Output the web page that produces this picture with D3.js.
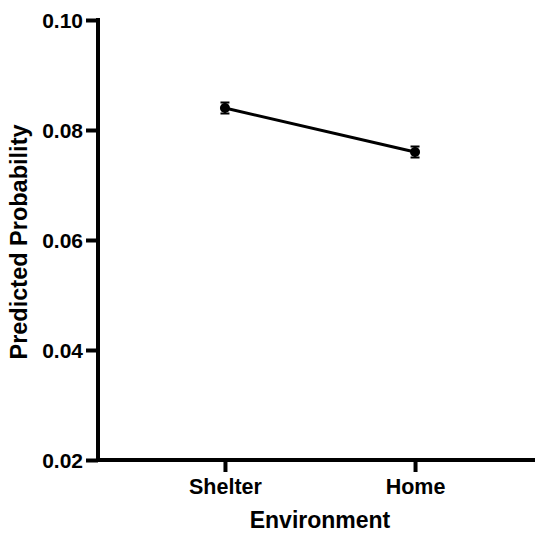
<!DOCTYPE html>
<html>
<head>
<meta charset="utf-8">
<script src="https://cdn.jsdelivr.net/npm/d3@7"></script>
<style>
  html, body { margin: 0; padding: 0; background: #fff; }
  svg text { font-family: "Liberation Sans", Arial, Helvetica, sans-serif; font-weight: bold; fill: #000; }
</style>
</head>
<body>
<svg id="chart" width="535" height="533"></svg>
<script>
// Predicted probability by environment, with standard errors
const categories = ["Shelter", "Home"];
const predicted = [0.084, 0.076];
const stdError = [0.001, 0.001];
const yTicks = [0.02, 0.04, 0.06, 0.08, 0.10];

const svg = d3.select("#chart");

const x = d3.scalePoint()
  .domain(categories)
  .range([98, 542])
  .padding(0.668);

const y = d3.scaleLinear()
  .domain([0.02, 0.10])
  .range([460, 20]);

const axisWidth = 4;

// y axis
const yAxis = svg.append("g")
  .attr("transform", "translate(98,0)")
  .call(d3.axisLeft(y).tickValues(yTicks).tickFormat(d3.format(".2f")).tickSize(12).tickPadding(3).tickSizeOuter(0));
yAxis.select(".domain").attr("stroke-width", axisWidth).attr("stroke", "#000")
  .attr("d", `M0,${y(0.02) + 2}V${y(0.10) - 2}`);
yAxis.selectAll(".tick line").attr("stroke-width", axisWidth).attr("stroke", "#000");
yAxis.selectAll(".tick text").attr("font-size", 21).attr("dy", "0.36em");

// x axis
const xAxis = svg.append("g")
  .attr("transform", `translate(0,${y(0.02)})`)
  .call(d3.axisBottom(x).tickSize(12).tickPadding(7).tickSizeOuter(0));
xAxis.select(".domain").attr("stroke-width", axisWidth).attr("stroke", "#000")
  .attr("d", `M${98 - 2},0H542`);
xAxis.selectAll(".tick line").attr("stroke-width", axisWidth).attr("stroke", "#000");
xAxis.selectAll(".tick text").attr("font-size", 21.5);

// axis titles
svg.append("text")
  .attr("x", 320).attr("y", 528)
  .attr("text-anchor", "middle")
  .attr("font-size", 23)
  .text("Environment");

svg.append("text")
  .attr("transform", `translate(27,242) rotate(-90)`)
  .attr("text-anchor", "middle")
  .attr("font-size", 23.5)
  .text("Predicted Probability");

// data
const points = categories.map((c, i) => ({ c, v: predicted[i], se: stdError[i] }));

svg.append("path")
  .datum(points)
  .attr("fill", "none")
  .attr("stroke", "#000")
  .attr("stroke-width", 3)
  .attr("d", d3.line().x(d => x(d.c)).y(d => y(d.v)));

const eb = svg.append("g").attr("stroke", "#000").attr("stroke-width", 2);
points.forEach(d => {
  const cx = x(d.c);
  eb.append("line").attr("x1", cx).attr("x2", cx).attr("y1", y(d.v + d.se)).attr("y2", y(d.v - d.se));
  [d.v + d.se, d.v - d.se].forEach(v => {
    eb.append("line").attr("x1", cx - 4.5).attr("x2", cx + 4.5).attr("y1", y(v)).attr("y2", y(v));
  });
});

svg.append("g").selectAll("circle")
  .data(points)
  .join("circle")
  .attr("cx", d => x(d.c))
  .attr("cy", d => y(d.v))
  .attr("r", 5)
  .attr("fill", "#000");
</script>
</body>
</html>
